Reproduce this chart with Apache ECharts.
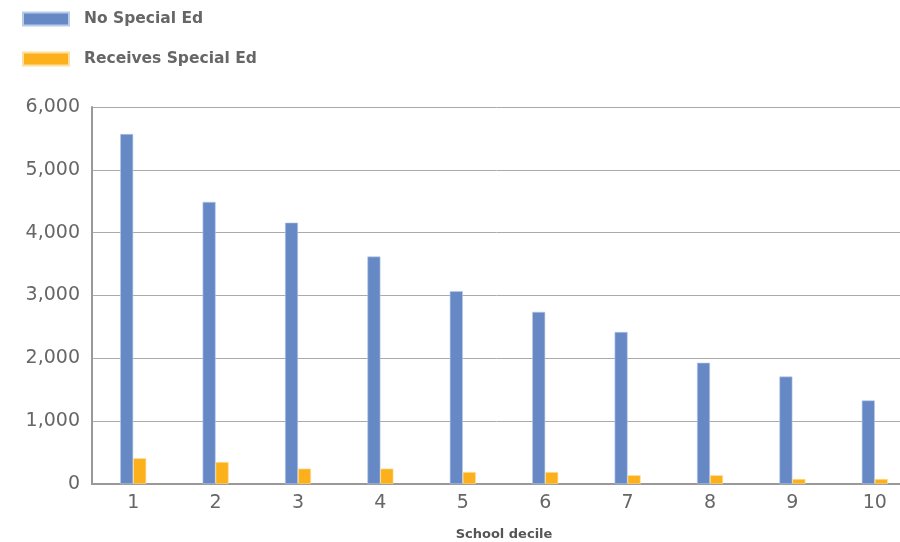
<!DOCTYPE html>
<html><head><meta charset="utf-8">
<script src="https://cdn.jsdelivr.net/npm/echarts@6/dist/echarts.min.js"></script>
<style>html,body{margin:0;padding:0;background:#fff}#c{width:900px;height:542px}</style>
</head><body><div id="c"></div>
<script>
const categories = ['1','2','3','4','5','6','7','8','9','10'];
const noSpecialEd = [5570, 4490, 4160, 3620, 3070, 2740, 2420, 1930, 1710, 1330];
const receivesSpecialEd = [410, 350, 245, 245, 190, 190, 140, 140, 80, 80];
const seriesNames = ['No Special Ed', 'Receives Special Ed'];

const F = 'DejaVu Sans';
const chart = echarts.init(document.getElementById('c'), null, {renderer:'canvas'});
chart.setOption({
  animation: false,
  textStyle: {fontFamily: F},
  legend: {
    orient: 'vertical', left: 22, top: 11, padding: 0,
    itemWidth: 46, itemHeight: 13, itemGap: 24,
    icon: 'rect',
    textStyle: {color: '#666', fontSize: 15.5, fontWeight: 'bold', fontFamily: F, padding: [0,0,0,10]},
    data: seriesNames
  },
  grid: {left: 92, right: -16, top: 107, bottom: 58, containLabel: false, outerBoundsMode: 'none'},
  xAxis: {
    type: 'category', data: categories,
    axisLine: {lineStyle: {color: '#999', width: 2}},
    axisTick: {show: false},
    axisLabel: {color: '#666', fontSize: 19, margin: 10, fontFamily: F},
    name: 'School decile', nameLocation: 'middle', nameGap: 44,
    nameTextStyle: {color: '#555', fontSize: 13, fontWeight: 'bold', fontFamily: F}
  },
  yAxis: {
    type: 'value', min: 0, max: 6000, interval: 1000,
    axisLine: {show: true, lineStyle: {color: '#999', width: 2}},
    axisTick: {show: false},
    splitLine: {lineStyle: {color: '#aaa', width: 1}},
    axisLabel: {color: '#666', fontSize: 19, margin: 12, fontFamily: F,
      formatter: v => v.toLocaleString('en-US')}
  },
  series: [
    {name: seriesNames[0], type: 'bar', data: noSpecialEd, barWidth: 13, barGap: '0%',
     itemStyle: {color: '#6689C6', borderColor: '#b9cbe9', borderWidth: 0.6}},
    {name: seriesNames[1], type: 'bar', data: receivesSpecialEd, barWidth: 13,
     itemStyle: {color: '#FCB11C', borderColor: '#fde0a0', borderWidth: 0.6}}
  ]
});
</script></body></html>
